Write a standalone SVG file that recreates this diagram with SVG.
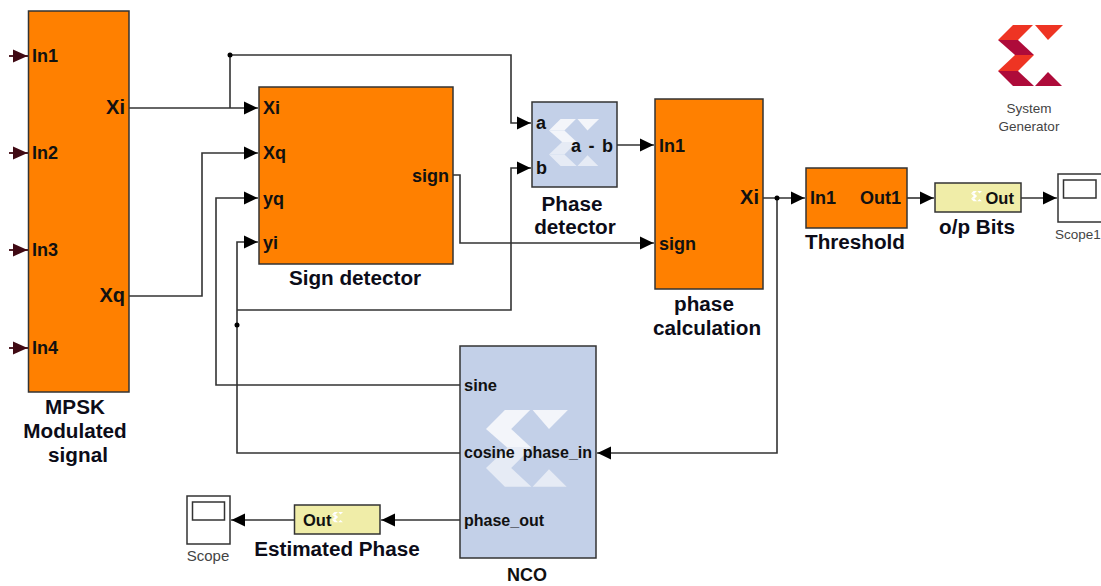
<svg xmlns="http://www.w3.org/2000/svg" width="1101" height="586" viewBox="0 0 1101 586">
<style>
text{font-family:"Liberation Sans",Arial,sans-serif;font-weight:bold;font-size:18px;fill:#111}
.p{font-size:16.500px}
.q{font-size:16px}
.l{font-size:20px}
.t{font-size:20.700px;text-anchor:middle;fill:#0c0c18}
.c{text-anchor:middle}
.e{text-anchor:end}
.sm{font-weight:normal;font-size:13.500px;fill:#444;text-anchor:middle}
.sc{font-size:15px}
.o{fill:#ff8000;stroke:#333;stroke-width:1.5}
.b{fill:#c3d0e8;stroke:#333;stroke-width:1.5}
.y{fill:#f0eda8;stroke:#333;stroke-width:1.5}
.s{fill:#fff;stroke:#333;stroke-width:1.5}
.w{fill:none;stroke:#333;stroke-width:1.600}
.w2{fill:none;stroke:#400a14;stroke-width:1.800}
.hi{fill:#f3f5fa}
.lo{fill:#e6ebf5}
.r1{fill:#ee3423}
.r2{fill:#ae0b3a}
</style>
<defs>
<marker id="a" markerUnits="userSpaceOnUse" markerWidth="14" markerHeight="14" refX="14" refY="7" orient="auto"><path d="M0,0.5L13.500,7L0,13.500Z" fill="#000"/></marker>
<marker id="m" markerUnits="userSpaceOnUse" markerWidth="15" markerHeight="14" refX="15" refY="7" orient="auto"><path d="M0,0.5L14.500,7L0,13.500Z" fill="#400a14"/></marker>
<g id="lg">
<path d="M0,15L15,0H35L20,15Z" class="hi"/>
<path d="M37,0H65L50,15Z" class="hi"/>
<path d="M0,15H20L36,30H17Z" class="hi"/>
<path d="M17,30H36L20,46H0Z" class="lo"/>
<path d="M0,46H20L36,61H15Z" class="lo"/>
<path d="M37,61L50,47L64,61Z" class="lo"/>
</g>
<g id="lgw">
<path d="M0,15L15,0H35L20,15Z" fill="#fff"/>
<path d="M37,0H65L50,15Z" fill="#fff"/>
<path d="M0,15H20L36,30H17Z" fill="#fff"/>
<path d="M17,30H36L20,46H0Z" fill="#fff"/>
<path d="M0,46H20L36,61H15Z" fill="#fff"/>
<path d="M37,61L50,47L64,61Z" fill="#fff"/>
</g>
</defs>
<g id="connectors">
<path class="w2" d="M9,56H28" marker-end="url(#m)"/>
<path class="w2" d="M9,153H28" marker-end="url(#m)"/>
<path class="w2" d="M9,250H28" marker-end="url(#m)"/>
<path class="w2" d="M9,348H28" marker-end="url(#m)"/>
<path class="w" d="M129,108H258" marker-end="url(#a)"/>
<path class="w" d="M230,108V55H511V123H531" marker-end="url(#a)"/>
<path class="w" d="M129,296H202V153H258" marker-end="url(#a)"/>
<path class="w" d="M460,385H216V198H258" marker-end="url(#a)"/>
<path class="w" d="M460,453H237V242H258" marker-end="url(#a)"/>
<path class="w" d="M237,310H511V168H531" marker-end="url(#a)"/>
<path class="w" d="M453,175H460V243H654" marker-end="url(#a)"/>
<path class="w" d="M617,145H654" marker-end="url(#a)"/>
<path class="w" d="M763,198H805" marker-end="url(#a)"/>
<path class="w" d="M777,198V453H597" marker-end="url(#a)"/>
<path class="w" d="M907,198H934" marker-end="url(#a)"/>
<path class="w" d="M1021,198H1057" marker-end="url(#a)"/>
<path class="w" d="M460,520H381" marker-end="url(#a)"/>
<path class="w" d="M294,520H231" marker-end="url(#a)"/>
<circle cx="230" cy="55" r="2.500" fill="#000"/>
<circle cx="237" cy="325" r="2.500" fill="#000"/>
<circle cx="777" cy="198" r="2.500" fill="#000"/>
</g>
<g id="mpsk">
<rect class="o" x="28.500" y="11" width="100.500" height="381"/>
<text x="32" y="62">In1</text><text x="32" y="159">In2</text><text x="32" y="256">In3</text><text x="32" y="354">In4</text>
<text class="e l" x="125" y="114">Xi</text><text class="e l" x="125" y="302">Xq</text>
<text class="t" x="75" y="414">MPSK</text><text class="t" x="75" y="438">Modulated</text><text class="t" x="78" y="462">signal</text>
</g>
<g id="sign-detector">
<rect class="o" x="259" y="87" width="194" height="177"/>
<text x="263" y="114">Xi</text><text x="263" y="159">Xq</text><text x="263" y="205">yq</text><text x="263" y="249">yi</text>
<text class="e" x="449" y="182">sign</text>
<text class="t" x="355" y="285">Sign detector</text>
</g>
<g id="phase-detector">
<rect class="b" x="532" y="102" width="85" height="85"/>
<use href="#lg" transform="translate(549,119) scale(.77)"/>
<text x="536" y="129">a</text><text x="536" y="174">b</text><text class="e" x="613" y="152" word-spacing="2.500">a - b</text>
<text class="t" x="572" y="211">Phase</text><text class="t" x="575" y="234">detector</text>
</g>
<g id="phase-calculation">
<rect class="o" x="655" y="99" width="108" height="190"/>
<text x="659" y="152">In1</text><text x="659" y="250">sign</text><text class="e l" x="759" y="204">Xi</text>
<text class="t" x="704" y="311">phase</text><text class="t" x="707" y="335">calculation</text>
</g>
<g id="threshold">
<rect class="o" x="806" y="168" width="101" height="60"/>
<text x="810" y="204">In1</text><text class="e" x="901" y="204">Out1</text>
<text class="t" x="855" y="249">Threshold</text>
</g>
<g id="op-bits">
<rect class="y" x="935" y="183" width="86" height="29"/>
<use href="#lgw" transform="translate(971,191) scale(.17)"/>
<text x="985.500" y="203.500" class="p">Out</text>
<text class="t" x="977" y="234">o/p Bits</text>
</g>
<g id="scope1">
<rect class="s" x="1058" y="174" width="44" height="48"/>
<rect class="s" x="1063.500" y="180" width="32.500" height="18"/>
<text class="sm" x="1078" y="239">Scope1</text>
</g>
<g id="nco">
<rect class="b" x="460" y="346" width="136" height="212"/>
<use href="#lg" transform="translate(486,410) scale(1.260)"/>
<text class="p" x="464" y="391">sine</text><text class="q" x="464" y="458">cosine</text><text class="q e" x="592" y="458">phase_in</text><text class="q" x="464" y="526">phase_out</text>
<text class="c" x="527" y="581">NCO</text>
</g>
<g id="estimated-phase">
<rect class="y" x="294.500" y="505" width="85.500" height="29"/>
<use href="#lgw" transform="translate(332,512) scale(.17)"/>
<text class="p" x="303" y="525.500">Out</text>
<text class="t" x="337" y="556">Estimated Phase</text>
</g>
<g id="scope">
<rect class="s" x="187" y="496" width="43" height="48"/>
<rect class="s" x="192.500" y="502" width="32" height="18"/>
<text class="sm sc" x="208" y="561">Scope</text>
</g>
<g id="system-generator">
<g transform="translate(998,25)">
<path d="M0,15L15,0H35L20,15Z" class="r1"/>
<path d="M37,0H65L50,15Z" class="r1"/>
<path d="M0,15H20L36,30H17Z" class="r2"/>
<path d="M17,30H36L20,46H0Z" class="r1"/>
<path d="M0,46H20L36,61H15Z" class="r2"/>
<path d="M37,61L50,47L64,61Z" class="r2"/>
</g>
<text class="sm" x="1029" y="113">System</text><text class="sm" x="1029" y="131">Generator</text>
</g>
</svg>
